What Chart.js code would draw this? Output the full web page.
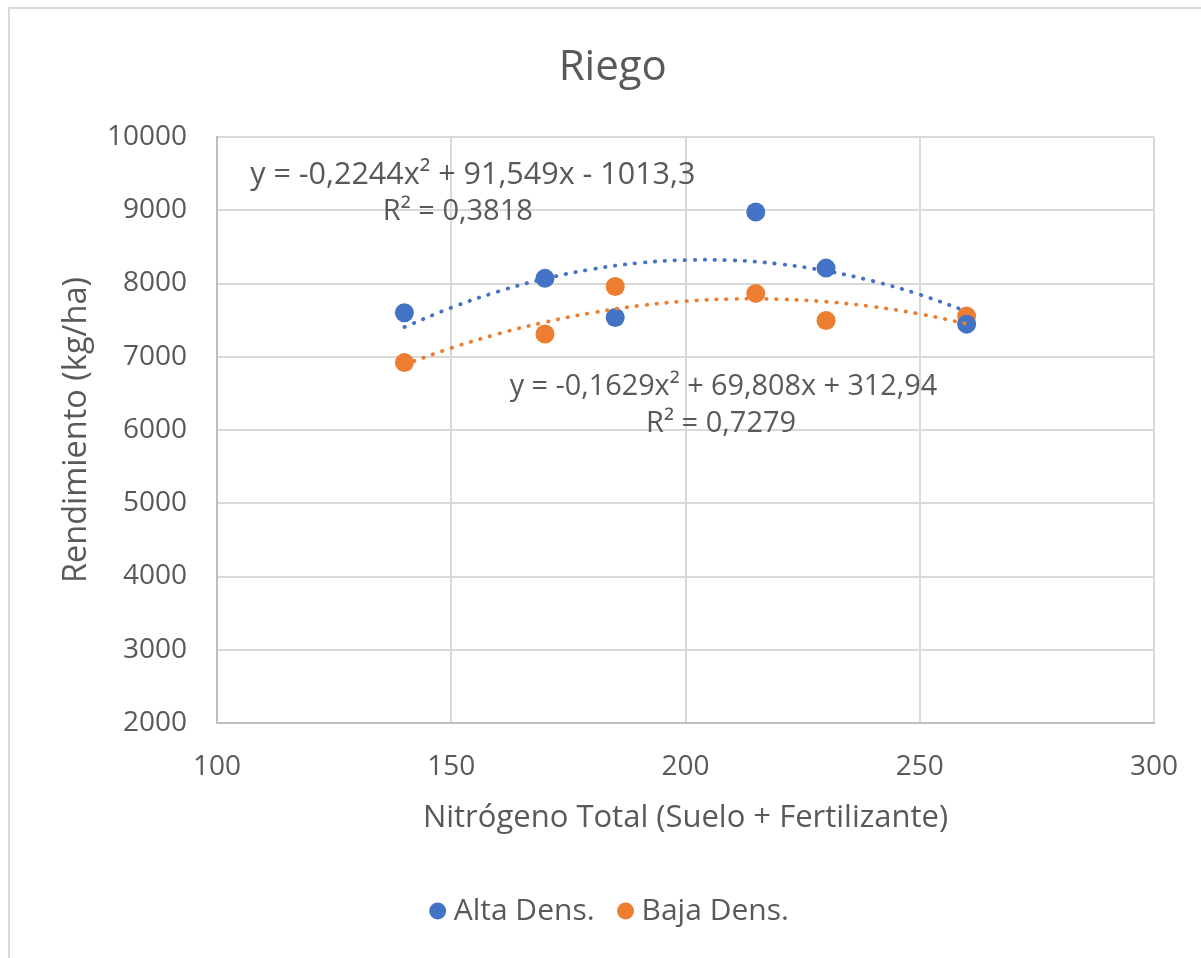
<!DOCTYPE html>
<html>
<head>
<meta charset="utf-8">
<script src="https://cdn.jsdelivr.net/npm/chart.js@4.4.0/dist/chart.umd.min.js"></script>
<style>
  html, body { margin: 0; padding: 0; background: #ffffff; }
  #frame { position: absolute; left: 8px; top: 7px; width: 1400px; height: 1200px;
           border-top: 2px solid #d9d9d9; border-left: 2px solid #d9d9d9; }
  #wrap { position: absolute; left: 0; top: 0; width: 1201px; height: 958px; }
</style>
</head>
<body>
<div id="frame"></div>
<div id="wrap"><canvas id="c" width="1201" height="958"></canvas></div>
<script>
// ---- data ----
const nitrogen = [140, 170, 185, 215, 230, 260];
const altaDens = [7600, 8070, 7535, 8975, 8210, 7445];
const bajaDens = [6920, 7310, 7960, 7865, 7495, 7555];

// trendline curves
const trendX    = [140, 150, 160, 170, 180, 190, 200, 210, 220, 230, 240, 250, 260];
const trendAlta = [7405, 7670, 7890, 8065, 8195, 8280, 8320, 8316, 8266, 8172, 8033, 7849, 7620];
const trendBaja = [6893, 7119, 7312, 7472, 7600, 7696, 7758, 7789, 7786, 7751, 7684, 7584, 7451];

const xTicks = [100, 150, 200, 250, 300];
const yTicks = [2000, 3000, 4000, 5000, 6000, 7000, 8000, 9000, 10000];

const seriesNames = ['Alta Dens.', 'Baja Dens.'];
const eqAlta = ['y = -0,2244x\u00b2 + 91,549x - 1013,3', 'R\u00b2 = 0,3818'];
const eqBaja = ['y = -0,1629x\u00b2 + 69,808x + 312,94', 'R\u00b2 = 0,7279'];

const BLUE = '#4472c4', ORANGE = '#ed7d31', TEXT = '#595959', GRID = '#d9d9d9';
const FONT = '"Open Sans", sans-serif';

const pts = (xs, ys) => xs.map((x, i) => ({ x: x, y: ys[i] }));

const trendLabels = {
  id: 'trendLabels',
  afterDatasetsDraw(chart) {
    const { ctx, scales: { x, y } } = chart;
    ctx.save();
    ctx.fillStyle = TEXT;
    ctx.textAlign = 'center';
    ctx.textBaseline = 'middle';
    const items = [
      [eqAlta[0], 154.6, 9481, 30.5], [eqAlta[1], 151.4, 8976, 29],
      [eqBaja[0], 208.1, 6587, 28.8], [eqBaja[1], 207.6, 6082, 29]
    ];
    items.forEach(([t, vx, vy, fs]) => {
      ctx.font = fs + 'px ' + FONT;
      ctx.fillText(t, x.getPixelForValue(vx), y.getPixelForValue(vy));
    });
    ctx.restore();
  }
};

new Chart(document.getElementById('c'), {
  type: 'scatter',
  data: {
    datasets: [
      { label: seriesNames[0], data: pts(nitrogen, altaDens), backgroundColor: BLUE, borderColor: BLUE,
        pointRadius: 9.5, pointHoverRadius: 9.5, pointBorderWidth: 0, order: 1 },
      { label: seriesNames[1], data: pts(nitrogen, bajaDens), backgroundColor: ORANGE, borderColor: ORANGE,
        pointRadius: 9.5, pointHoverRadius: 9.5, pointBorderWidth: 0, order: 1 },
      { label: 'trendAlta', data: pts(trendX, trendAlta), showLine: true, pointRadius: 0, borderColor: BLUE,
        borderWidth: 3.8, borderDash: [0.5, 9.5], borderCapStyle: 'round', tension: 0.4, fill: false, order: 0 },
      { label: 'trendBaja', data: pts(trendX, trendBaja), showLine: true, pointRadius: 0, borderColor: ORANGE,
        borderWidth: 3.8, borderDash: [0.5, 9.5], borderCapStyle: 'round', tension: 0.4, fill: false, order: 0 }
    ]
  },
  options: {
    responsive: false,
    animation: false,
    layout: { padding: { left: 71.5, right: 47, top: 10, bottom: 22 } },
    plugins: {
      title: { display: true, text: 'Riego', color: TEXT, font: { family: FONT, size: 42, weight: 'normal' },
               padding: { top: 32.8, bottom: 43.8 } },
      legend: {
        position: 'bottom',
        labels: {
          filter: (item) => item.datasetIndex < 2,
          usePointStyle: true, pointStyle: 'circle', boxWidth: 2, boxHeight: 12,
          color: TEXT, font: { family: FONT, size: 30 }, padding: 30
        }
      },
      tooltip: { enabled: false }
    },
    scales: {
      x: {
        type: 'linear', min: 100, max: 300,
        afterBuildTicks: (s) => { s.ticks = xTicks.map(v => ({ value: v })); },
        afterFit: (s) => { s.height = 143; s.paddingRight = 20; s.paddingLeft = 20; },
        ticks: { color: TEXT, font: { family: FONT, size: 28 }, padding: 27.2, callback: (v) => String(v) },
        grid: { color: GRID, lineWidth: 2, drawTicks: false },
        border: { color: '#bfbfbf', width: 2 },
        title: { display: true, text: 'Nitrógeno Total (Suelo + Fertilizante)', color: TEXT,
                 font: { family: FONT, size: 31 }, padding: { top: 0, bottom: 29.4 } }
      },
      y: {
        type: 'linear', min: 2000, max: 10000,
        afterBuildTicks: (s) => { s.ticks = yTicks.map(v => ({ value: v })); },
        afterFit: (s) => { s.width = 217 - 71.5; },
        ticks: { color: TEXT, font: { family: FONT, size: 28 }, padding: 30, callback: (v) => String(v) },
        grid: { color: GRID, lineWidth: 2, drawTicks: false },
        border: { color: '#bfbfbf', width: 2 },
        title: { display: true, text: 'Rendimiento (kg/ha)', color: TEXT,
                 font: { family: FONT, size: 32.5 }, padding: { top: -14, bottom: 0 } }
      }
    }
  },
  plugins: [trendLabels]
});
</script>
</body>
</html>
